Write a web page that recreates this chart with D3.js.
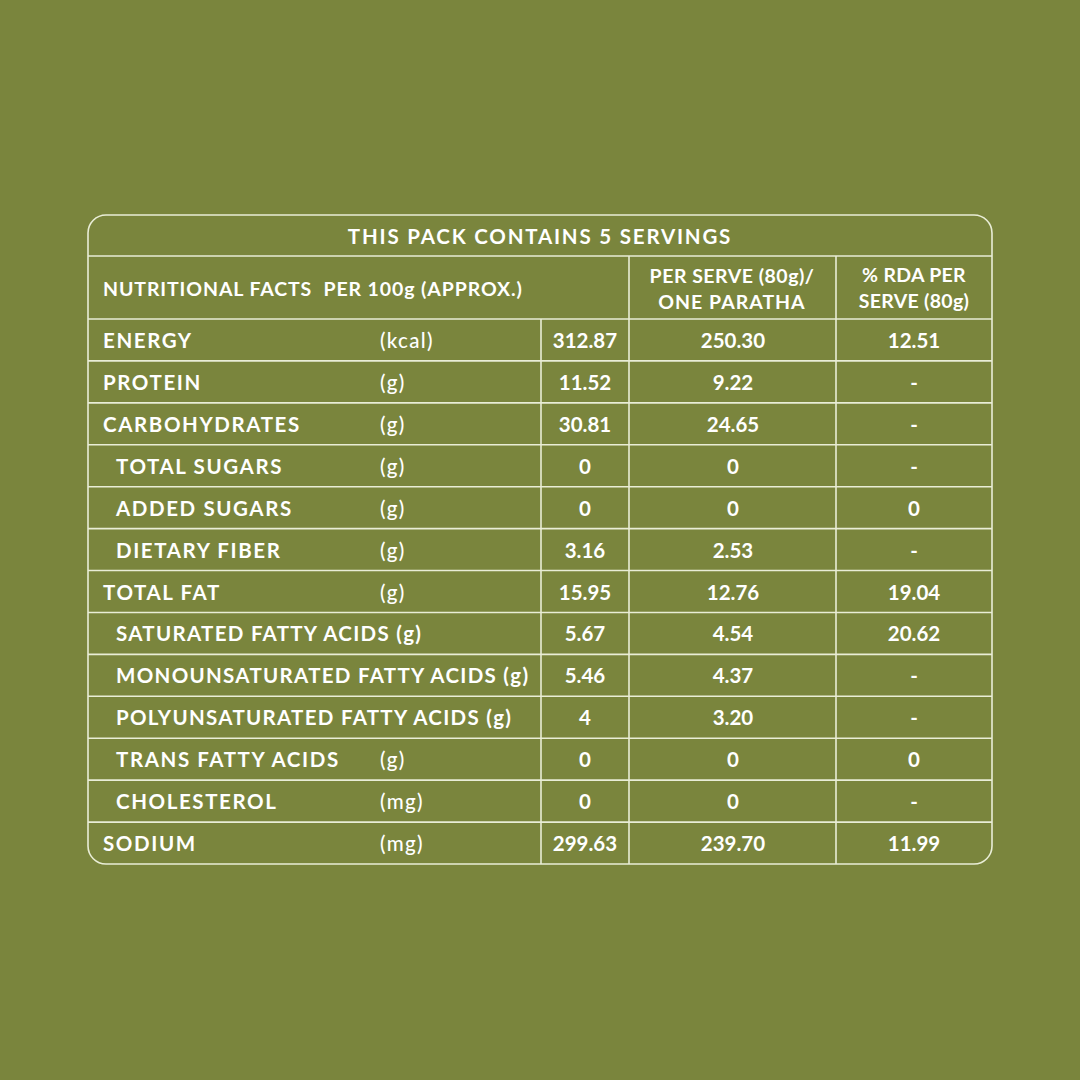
<!DOCTYPE html>
<html><head><meta charset="utf-8">
<script src="https://cdn.jsdelivr.net/npm/d3@7"></script>
<style>html,body{margin:0;padding:0;background:#7a853d;}</style>
</head><body><svg id="c" width="1080" height="1080"></svg>
<script>
const nutrients = ["ENERGY","PROTEIN","CARBOHYDRATES","TOTAL SUGARS","ADDED SUGARS","DIETARY FIBER","TOTAL FAT","SATURATED FATTY ACIDS (g)","MONOUNSATURATED FATTY ACIDS (g)","POLYUNSATURATED FATTY ACIDS (g)","TRANS FATTY ACIDS","CHOLESTEROL","SODIUM"];
const indented = [false,false,false,true,true,true,false,true,true,true,true,true,false];
const units = ["(kcal)","(g)","(g)","(g)","(g)","(g)","(g)","","","","(g)","(mg)","(mg)"];
const per100 = ["312.87","11.52","30.81","0","0","3.16","15.95","5.67","5.46","4","0","0","299.63"];
const perServe = ["250.30","9.22","24.65","0","0","2.53","12.76","4.54","4.37","3.20","0","0","239.70"];
const rda = ["12.51","-","-","-","0","-","19.04","20.62","-","-","0","-","11.99"];

const svg = d3.select("#c");
const X0=88, X1=992, Y0=215, H1=256, H2=319, Y1=864;
const lc="#e9edd6", font="Lato, 'Open Sans', sans-serif";
const y = d3.scaleBand().domain(d3.range(nutrients.length)).range([H2,Y1]);
const cols=[X0,541,629,836,X1];

svg.append("rect").attr("x",X0).attr("y",Y0).attr("width",X1-X0).attr("height",Y1-Y0)
  .attr("rx",18).attr("fill","none").attr("stroke",lc).attr("stroke-width",1.6);
const g=svg.append("g").attr("stroke",lc).attr("stroke-width",1.6);
[H1,H2].concat(d3.range(1,nutrients.length).map(i=>y(i))).forEach(v=>
  g.append("line").attr("x1",X0).attr("x2",X1).attr("y1",v).attr("y2",v));
g.append("line").attr("x1",cols[1]).attr("x2",cols[1]).attr("y1",H2).attr("y2",Y1);
[cols[2],cols[3]].forEach(c=>g.append("line").attr("x1",c).attr("x2",c).attr("y1",H1).attr("y2",Y1));

function t(x,yy,s,anchor,size,ls){return svg.append("text").attr("x",x).attr("y",yy).attr("text-anchor",anchor||"start")
  .attr("dominant-baseline","central").attr("fill","#fff").attr("font-family",font).attr("font-weight",700)
  .attr("font-size",size||20.5).attr("letter-spacing",ls||0).text(s);}
t(540,236,"THIS PACK CONTAINS 5 SERVINGS","middle",20.5,1.8);
t(103,288,"NUTRITIONAL FACTS  PER 100g (APPROX.)","start",19.5,0.9).attr("xml:space","preserve");
t(732,275,"PER SERVE (80g)/","middle",19.5,0.5);t(732,301,"ONE PARATHA","middle",19.5,1);
t(914,274,"% RDA PER","middle",19.5,0.3);t(914,300,"SERVE (80g)","middle",19.5,0.3);

nutrients.forEach((n,i)=>{
  const cy=y(i)+y.bandwidth()/2;
  t(indented[i]?116:103,cy,n,"start",20.5,n.includes("(g)")?1.3:1.6);
  if(units[i]) t(380,cy,units[i],"start",20.5,1.3).attr("font-weight",500);
  t(585,cy,per100[i],"middle");
  t(733,cy,perServe[i],"middle");
  t(914,cy,rda[i],"middle");
});
</script></body></html>
